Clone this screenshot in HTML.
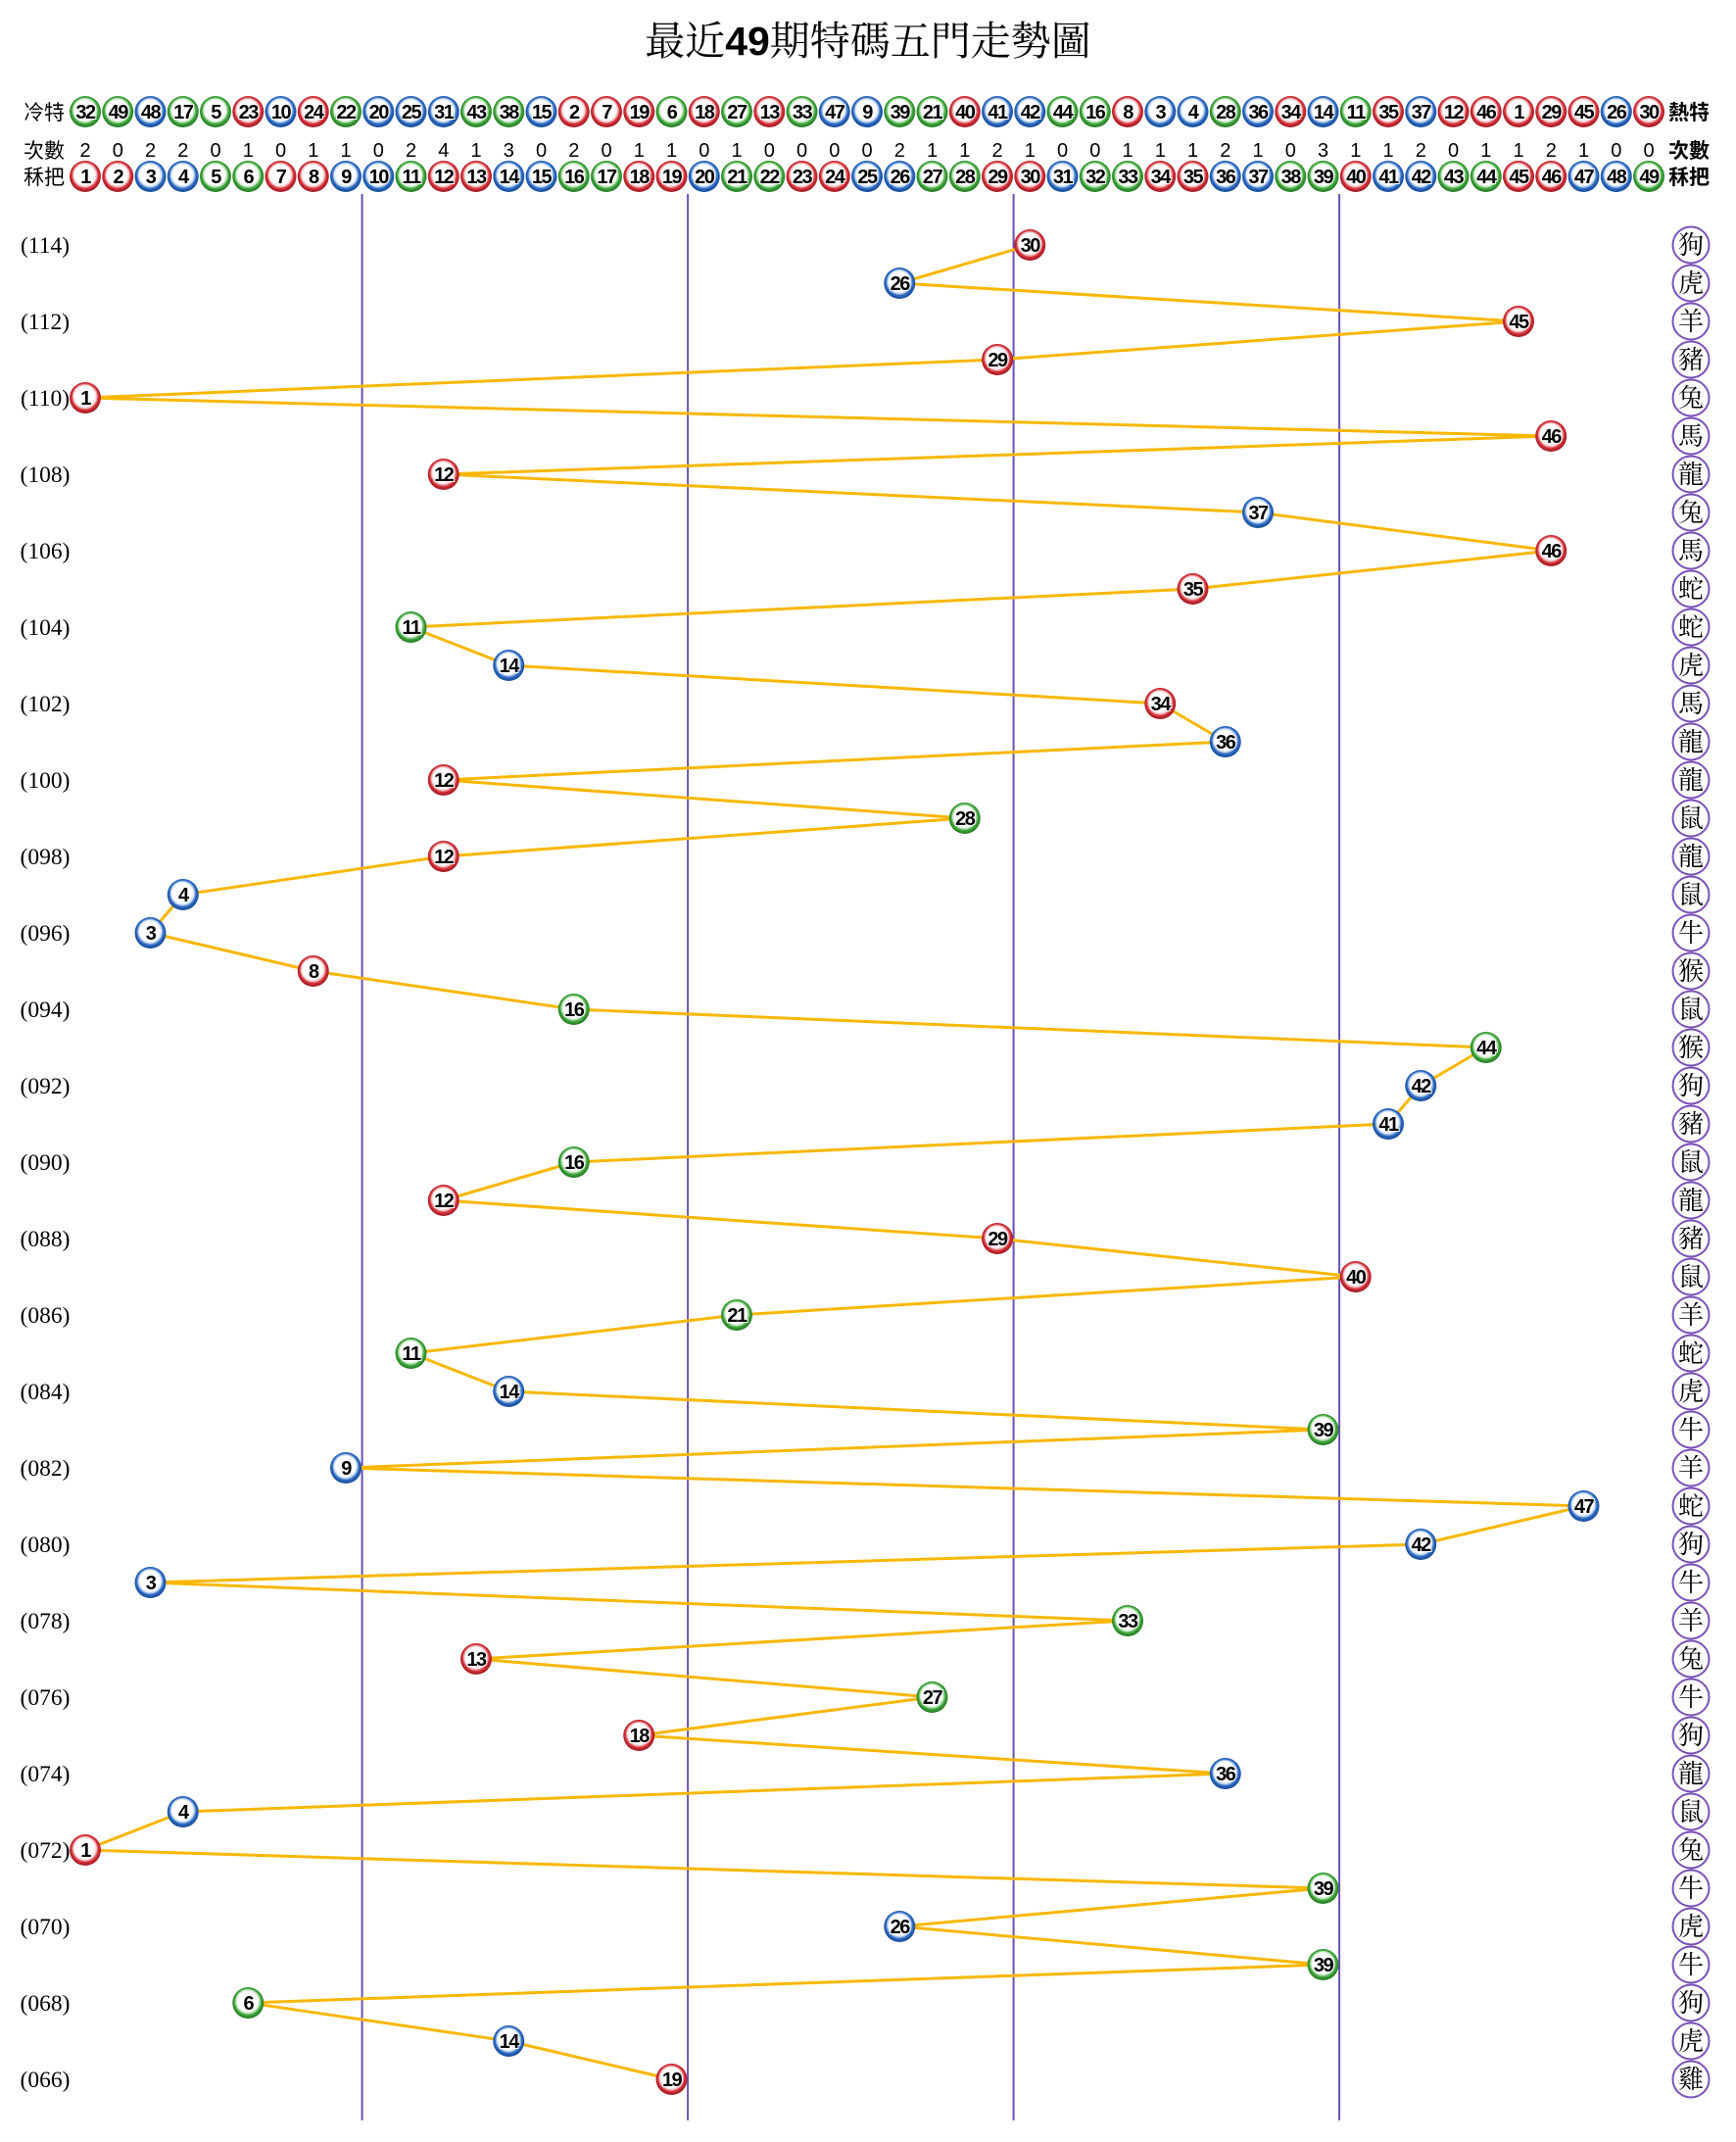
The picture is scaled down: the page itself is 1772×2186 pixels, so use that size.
<!DOCTYPE html>
<html><head><meta charset="utf-8"><style>
html,body{margin:0;padding:0;background:#fff;}
svg{display:block;}
.n{font-family:"Liberation Sans",sans-serif;font-weight:bold;font-size:20px;text-anchor:middle;fill:#000;stroke:#fff;stroke-width:2px;paint-order:stroke;letter-spacing:-1.5px;}
.c{font-family:"Liberation Sans",sans-serif;font-size:20px;text-anchor:middle;fill:#000;}
.lb{font-family:"Liberation Sans","Noto Sans CJK TC","Noto Sans CJK SC",sans-serif;font-size:21px;fill:#000;}
.rb{font-family:"Liberation Sans","Noto Sans CJK TC","Noto Sans CJK SC",sans-serif;font-size:21px;font-weight:bold;fill:#000;}
.p{font-family:"Liberation Serif",serif;font-size:23.5px;text-anchor:middle;fill:#000;}
.z{font-family:"Liberation Serif","Noto Serif CJK SC",serif;font-size:26px;text-anchor:middle;fill:#000;}
.t{font-family:"Liberation Serif","Noto Serif CJK SC",serif;font-size:41px;text-anchor:middle;fill:#000;}
.t tspan{font-family:"Liberation Sans",sans-serif;font-weight:bold;}
</style></head><body>
<svg width="1772" height="2186" viewBox="0 0 1772 2186" xmlns="http://www.w3.org/2000/svg">
<defs>
<radialGradient id="gR" cx="50%" cy="48%" r="52%" fx="46%" fy="40%">
<stop offset="0" stop-color="#fff"/><stop offset="0.6" stop-color="#fff"/><stop offset="0.7" stop-color="#f4d2d4"/><stop offset="0.82" stop-color="#d62e38"/><stop offset="1" stop-color="#9a1a22"/></radialGradient>
<radialGradient id="gG" cx="50%" cy="48%" r="52%" fx="46%" fy="40%">
<stop offset="0" stop-color="#fff"/><stop offset="0.6" stop-color="#fff"/><stop offset="0.7" stop-color="#d6eed4"/><stop offset="0.82" stop-color="#3ea63a"/><stop offset="1" stop-color="#217622"/></radialGradient>
<radialGradient id="gB" cx="50%" cy="48%" r="52%" fx="46%" fy="40%">
<stop offset="0" stop-color="#fff"/><stop offset="0.6" stop-color="#fff"/><stop offset="0.7" stop-color="#d2e1f5"/><stop offset="0.82" stop-color="#2c6ac4"/><stop offset="1" stop-color="#164891"/></radialGradient>
<circle id="R" r="16" fill="url(#gR)"/>
<circle id="G" r="16" fill="url(#gG)"/>
<circle id="B" r="16" fill="url(#gB)"/>
</defs>

<text class="t" x="886" y="56">最近<tspan>49</tspan>期特碼五門走勢圖</text>

<text class="lb" x="24" y="122">冷特</text>
<text class="lb" x="24" y="161">次數</text>
<text class="lb" x="24" y="188">秝把</text>
<text class="rb" x="1703" y="122">熱特</text>
<text class="rb" x="1703" y="161">次數</text>
<text class="rb" x="1703" y="188">秝把</text>

<!-- 冷特 row -->
<g transform="translate(87,114)"><use href="#G"/><text class="n" y="7">32</text></g>
<g transform="translate(120.25,114)"><use href="#G"/><text class="n" y="7">49</text></g>
<g transform="translate(153.5,114)"><use href="#B"/><text class="n" y="7">48</text></g>
<g transform="translate(186.75,114)"><use href="#G"/><text class="n" y="7">17</text></g>
<g transform="translate(220,114)"><use href="#G"/><text class="n" y="7">5</text></g>
<g transform="translate(253.25,114)"><use href="#R"/><text class="n" y="7">23</text></g>
<g transform="translate(286.5,114)"><use href="#B"/><text class="n" y="7">10</text></g>
<g transform="translate(319.75,114)"><use href="#R"/><text class="n" y="7">24</text></g>
<g transform="translate(353,114)"><use href="#G"/><text class="n" y="7">22</text></g>
<g transform="translate(386.25,114)"><use href="#B"/><text class="n" y="7">20</text></g>
<g transform="translate(419.5,114)"><use href="#B"/><text class="n" y="7">25</text></g>
<g transform="translate(452.75,114)"><use href="#B"/><text class="n" y="7">31</text></g>
<g transform="translate(486,114)"><use href="#G"/><text class="n" y="7">43</text></g>
<g transform="translate(519.25,114)"><use href="#G"/><text class="n" y="7">38</text></g>
<g transform="translate(552.5,114)"><use href="#B"/><text class="n" y="7">15</text></g>
<g transform="translate(585.75,114)"><use href="#R"/><text class="n" y="7">2</text></g>
<g transform="translate(619,114)"><use href="#R"/><text class="n" y="7">7</text></g>
<g transform="translate(652.25,114)"><use href="#R"/><text class="n" y="7">19</text></g>
<g transform="translate(685.5,114)"><use href="#G"/><text class="n" y="7">6</text></g>
<g transform="translate(718.75,114)"><use href="#R"/><text class="n" y="7">18</text></g>
<g transform="translate(752,114)"><use href="#G"/><text class="n" y="7">27</text></g>
<g transform="translate(785.25,114)"><use href="#R"/><text class="n" y="7">13</text></g>
<g transform="translate(818.5,114)"><use href="#G"/><text class="n" y="7">33</text></g>
<g transform="translate(851.75,114)"><use href="#B"/><text class="n" y="7">47</text></g>
<g transform="translate(885,114)"><use href="#B"/><text class="n" y="7">9</text></g>
<g transform="translate(918.25,114)"><use href="#G"/><text class="n" y="7">39</text></g>
<g transform="translate(951.5,114)"><use href="#G"/><text class="n" y="7">21</text></g>
<g transform="translate(984.75,114)"><use href="#R"/><text class="n" y="7">40</text></g>
<g transform="translate(1018,114)"><use href="#B"/><text class="n" y="7">41</text></g>
<g transform="translate(1051.25,114)"><use href="#B"/><text class="n" y="7">42</text></g>
<g transform="translate(1084.5,114)"><use href="#G"/><text class="n" y="7">44</text></g>
<g transform="translate(1117.75,114)"><use href="#G"/><text class="n" y="7">16</text></g>
<g transform="translate(1151,114)"><use href="#R"/><text class="n" y="7">8</text></g>
<g transform="translate(1184.25,114)"><use href="#B"/><text class="n" y="7">3</text></g>
<g transform="translate(1217.5,114)"><use href="#B"/><text class="n" y="7">4</text></g>
<g transform="translate(1250.75,114)"><use href="#G"/><text class="n" y="7">28</text></g>
<g transform="translate(1284,114)"><use href="#B"/><text class="n" y="7">36</text></g>
<g transform="translate(1317.25,114)"><use href="#R"/><text class="n" y="7">34</text></g>
<g transform="translate(1350.5,114)"><use href="#B"/><text class="n" y="7">14</text></g>
<g transform="translate(1383.75,114)"><use href="#G"/><text class="n" y="7">11</text></g>
<g transform="translate(1417,114)"><use href="#R"/><text class="n" y="7">35</text></g>
<g transform="translate(1450.25,114)"><use href="#B"/><text class="n" y="7">37</text></g>
<g transform="translate(1483.5,114)"><use href="#R"/><text class="n" y="7">12</text></g>
<g transform="translate(1516.75,114)"><use href="#R"/><text class="n" y="7">46</text></g>
<g transform="translate(1550,114)"><use href="#R"/><text class="n" y="7">1</text></g>
<g transform="translate(1583.25,114)"><use href="#R"/><text class="n" y="7">29</text></g>
<g transform="translate(1616.5,114)"><use href="#R"/><text class="n" y="7">45</text></g>
<g transform="translate(1649.75,114)"><use href="#B"/><text class="n" y="7">26</text></g>
<g transform="translate(1683,114)"><use href="#R"/><text class="n" y="7">30</text></g>

<!-- 次數 row -->
<g class="c">
<text x="87" y="160">2</text><text x="120.25" y="160">0</text><text x="153.5" y="160">2</text><text x="186.75" y="160">2</text><text x="220" y="160">0</text>
<text x="253.25" y="160">1</text><text x="286.5" y="160">0</text><text x="319.75" y="160">1</text><text x="353" y="160">1</text><text x="386.25" y="160">0</text>
<text x="419.5" y="160">2</text><text x="452.75" y="160">4</text><text x="486" y="160">1</text><text x="519.25" y="160">3</text><text x="552.5" y="160">0</text>
<text x="585.75" y="160">2</text><text x="619" y="160">0</text><text x="652.25" y="160">1</text><text x="685.5" y="160">1</text><text x="718.75" y="160">0</text>
<text x="752" y="160">1</text><text x="785.25" y="160">0</text><text x="818.5" y="160">0</text><text x="851.75" y="160">0</text><text x="885" y="160">0</text>
<text x="918.25" y="160">2</text><text x="951.5" y="160">1</text><text x="984.75" y="160">1</text><text x="1018" y="160">2</text><text x="1051.25" y="160">1</text>
<text x="1084.5" y="160">0</text><text x="1117.75" y="160">0</text><text x="1151" y="160">1</text><text x="1184.25" y="160">1</text><text x="1217.5" y="160">1</text>
<text x="1250.75" y="160">2</text><text x="1284" y="160">1</text><text x="1317.25" y="160">0</text><text x="1350.5" y="160">3</text><text x="1383.75" y="160">1</text>
<text x="1417" y="160">1</text><text x="1450.25" y="160">2</text><text x="1483.5" y="160">0</text><text x="1516.75" y="160">1</text><text x="1550" y="160">1</text>
<text x="1583.25" y="160">2</text><text x="1616.5" y="160">1</text><text x="1649.75" y="160">0</text><text x="1683" y="160">0</text>
</g>

<!-- 秝把 row -->
<g transform="translate(87,180)"><use href="#R"/><text class="n" y="7">1</text></g>
<g transform="translate(120.25,180)"><use href="#R"/><text class="n" y="7">2</text></g>
<g transform="translate(153.5,180)"><use href="#B"/><text class="n" y="7">3</text></g>
<g transform="translate(186.75,180)"><use href="#B"/><text class="n" y="7">4</text></g>
<g transform="translate(220,180)"><use href="#G"/><text class="n" y="7">5</text></g>
<g transform="translate(253.25,180)"><use href="#G"/><text class="n" y="7">6</text></g>
<g transform="translate(286.5,180)"><use href="#R"/><text class="n" y="7">7</text></g>
<g transform="translate(319.75,180)"><use href="#R"/><text class="n" y="7">8</text></g>
<g transform="translate(353,180)"><use href="#B"/><text class="n" y="7">9</text></g>
<g transform="translate(386.25,180)"><use href="#B"/><text class="n" y="7">10</text></g>
<g transform="translate(419.5,180)"><use href="#G"/><text class="n" y="7">11</text></g>
<g transform="translate(452.75,180)"><use href="#R"/><text class="n" y="7">12</text></g>
<g transform="translate(486,180)"><use href="#R"/><text class="n" y="7">13</text></g>
<g transform="translate(519.25,180)"><use href="#B"/><text class="n" y="7">14</text></g>
<g transform="translate(552.5,180)"><use href="#B"/><text class="n" y="7">15</text></g>
<g transform="translate(585.75,180)"><use href="#G"/><text class="n" y="7">16</text></g>
<g transform="translate(619,180)"><use href="#G"/><text class="n" y="7">17</text></g>
<g transform="translate(652.25,180)"><use href="#R"/><text class="n" y="7">18</text></g>
<g transform="translate(685.5,180)"><use href="#R"/><text class="n" y="7">19</text></g>
<g transform="translate(718.75,180)"><use href="#B"/><text class="n" y="7">20</text></g>
<g transform="translate(752,180)"><use href="#G"/><text class="n" y="7">21</text></g>
<g transform="translate(785.25,180)"><use href="#G"/><text class="n" y="7">22</text></g>
<g transform="translate(818.5,180)"><use href="#R"/><text class="n" y="7">23</text></g>
<g transform="translate(851.75,180)"><use href="#R"/><text class="n" y="7">24</text></g>
<g transform="translate(885,180)"><use href="#B"/><text class="n" y="7">25</text></g>
<g transform="translate(918.25,180)"><use href="#B"/><text class="n" y="7">26</text></g>
<g transform="translate(951.5,180)"><use href="#G"/><text class="n" y="7">27</text></g>
<g transform="translate(984.75,180)"><use href="#G"/><text class="n" y="7">28</text></g>
<g transform="translate(1018,180)"><use href="#R"/><text class="n" y="7">29</text></g>
<g transform="translate(1051.25,180)"><use href="#R"/><text class="n" y="7">30</text></g>
<g transform="translate(1084.5,180)"><use href="#B"/><text class="n" y="7">31</text></g>
<g transform="translate(1117.75,180)"><use href="#G"/><text class="n" y="7">32</text></g>
<g transform="translate(1151,180)"><use href="#G"/><text class="n" y="7">33</text></g>
<g transform="translate(1184.25,180)"><use href="#R"/><text class="n" y="7">34</text></g>
<g transform="translate(1217.5,180)"><use href="#R"/><text class="n" y="7">35</text></g>
<g transform="translate(1250.75,180)"><use href="#B"/><text class="n" y="7">36</text></g>
<g transform="translate(1284,180)"><use href="#B"/><text class="n" y="7">37</text></g>
<g transform="translate(1317.25,180)"><use href="#G"/><text class="n" y="7">38</text></g>
<g transform="translate(1350.5,180)"><use href="#G"/><text class="n" y="7">39</text></g>
<g transform="translate(1383.75,180)"><use href="#R"/><text class="n" y="7">40</text></g>
<g transform="translate(1417,180)"><use href="#B"/><text class="n" y="7">41</text></g>
<g transform="translate(1450.25,180)"><use href="#B"/><text class="n" y="7">42</text></g>
<g transform="translate(1483.5,180)"><use href="#G"/><text class="n" y="7">43</text></g>
<g transform="translate(1516.75,180)"><use href="#G"/><text class="n" y="7">44</text></g>
<g transform="translate(1550,180)"><use href="#R"/><text class="n" y="7">45</text></g>
<g transform="translate(1583.25,180)"><use href="#R"/><text class="n" y="7">46</text></g>
<g transform="translate(1616.5,180)"><use href="#B"/><text class="n" y="7">47</text></g>
<g transform="translate(1649.75,180)"><use href="#B"/><text class="n" y="7">48</text></g>
<g transform="translate(1683,180)"><use href="#G"/><text class="n" y="7">49</text></g>

<!-- vertical lines -->
<g stroke="#6b4fb6" stroke-width="2">
<line x1="369.6" y1="198" x2="369.6" y2="2164"/>
<line x1="702.1" y1="198" x2="702.1" y2="2164"/>
<line x1="1034.6" y1="198" x2="1034.6" y2="2164"/>
<line x1="1367.1" y1="198" x2="1367.1" y2="2164"/>
</g>

<!-- period labels -->
<g class="p">
<text x="46" y="258">(114)</text><text x="46" y="336">(112)</text><text x="46" y="414">(110)</text><text x="46" y="492">(108)</text>
<text x="46" y="570">(106)</text><text x="46" y="648">(104)</text><text x="46" y="726">(102)</text><text x="46" y="804">(100)</text>
<text x="46" y="882">(098)</text><text x="46" y="960">(096)</text><text x="46" y="1038">(094)</text><text x="46" y="1116">(092)</text>
<text x="46" y="1194">(090)</text><text x="46" y="1272">(088)</text><text x="46" y="1350">(086)</text><text x="46" y="1428">(084)</text>
<text x="46" y="1506">(082)</text><text x="46" y="1584">(080)</text><text x="46" y="1662">(078)</text><text x="46" y="1740">(076)</text>
<text x="46" y="1818">(074)</text><text x="46" y="1896">(072)</text><text x="46" y="1974">(070)</text><text x="46" y="2052">(068)</text>
<text x="46" y="2130">(066)</text>
</g>

<!-- trend line -->
<polyline fill="none" stroke="#f8b700" stroke-width="3" stroke-linejoin="round" points="1051.25,250 918.25,289 1550,328 1018,367 87,406 1583.25,445 452.75,484 1284,523 1583.25,562 1217.5,601 419.5,640 519.25,679 1184.25,718 1250.75,757 452.75,796 984.75,835 452.75,874 186.75,913 153.5,952 319.75,991 585.75,1030 1516.75,1069 1450.25,1108 1417,1147 585.75,1186 452.75,1225 1018,1264 1383.75,1303 752,1342 419.5,1381 519.25,1420 1350.5,1459 353,1498 1616.5,1537 1450.25,1576 153.5,1615 1151,1654 486,1693 951.5,1732 652.25,1771 1250.75,1810 186.75,1849 87,1888 1350.5,1927 918.25,1966 1350.5,2005 253.25,2044 519.25,2083 685.5,2122"/>

<!-- plot balls -->
<g transform="translate(1051.25,250)"><use href="#R"/><text class="n" y="7">30</text></g>
<g transform="translate(918.25,289)"><use href="#B"/><text class="n" y="7">26</text></g>
<g transform="translate(1550,328)"><use href="#R"/><text class="n" y="7">45</text></g>
<g transform="translate(1018,367)"><use href="#R"/><text class="n" y="7">29</text></g>
<g transform="translate(87,406)"><use href="#R"/><text class="n" y="7">1</text></g>
<g transform="translate(1583.25,445)"><use href="#R"/><text class="n" y="7">46</text></g>
<g transform="translate(452.75,484)"><use href="#R"/><text class="n" y="7">12</text></g>
<g transform="translate(1284,523)"><use href="#B"/><text class="n" y="7">37</text></g>
<g transform="translate(1583.25,562)"><use href="#R"/><text class="n" y="7">46</text></g>
<g transform="translate(1217.5,601)"><use href="#R"/><text class="n" y="7">35</text></g>
<g transform="translate(419.5,640)"><use href="#G"/><text class="n" y="7">11</text></g>
<g transform="translate(519.25,679)"><use href="#B"/><text class="n" y="7">14</text></g>
<g transform="translate(1184.25,718)"><use href="#R"/><text class="n" y="7">34</text></g>
<g transform="translate(1250.75,757)"><use href="#B"/><text class="n" y="7">36</text></g>
<g transform="translate(452.75,796)"><use href="#R"/><text class="n" y="7">12</text></g>
<g transform="translate(984.75,835)"><use href="#G"/><text class="n" y="7">28</text></g>
<g transform="translate(452.75,874)"><use href="#R"/><text class="n" y="7">12</text></g>
<g transform="translate(186.75,913)"><use href="#B"/><text class="n" y="7">4</text></g>
<g transform="translate(153.5,952)"><use href="#B"/><text class="n" y="7">3</text></g>
<g transform="translate(319.75,991)"><use href="#R"/><text class="n" y="7">8</text></g>
<g transform="translate(585.75,1030)"><use href="#G"/><text class="n" y="7">16</text></g>
<g transform="translate(1516.75,1069)"><use href="#G"/><text class="n" y="7">44</text></g>
<g transform="translate(1450.25,1108)"><use href="#B"/><text class="n" y="7">42</text></g>
<g transform="translate(1417,1147)"><use href="#B"/><text class="n" y="7">41</text></g>
<g transform="translate(585.75,1186)"><use href="#G"/><text class="n" y="7">16</text></g>
<g transform="translate(452.75,1225)"><use href="#R"/><text class="n" y="7">12</text></g>
<g transform="translate(1018,1264)"><use href="#R"/><text class="n" y="7">29</text></g>
<g transform="translate(1383.75,1303)"><use href="#R"/><text class="n" y="7">40</text></g>
<g transform="translate(752,1342)"><use href="#G"/><text class="n" y="7">21</text></g>
<g transform="translate(419.5,1381)"><use href="#G"/><text class="n" y="7">11</text></g>
<g transform="translate(519.25,1420)"><use href="#B"/><text class="n" y="7">14</text></g>
<g transform="translate(1350.5,1459)"><use href="#G"/><text class="n" y="7">39</text></g>
<g transform="translate(353,1498)"><use href="#B"/><text class="n" y="7">9</text></g>
<g transform="translate(1616.5,1537)"><use href="#B"/><text class="n" y="7">47</text></g>
<g transform="translate(1450.25,1576)"><use href="#B"/><text class="n" y="7">42</text></g>
<g transform="translate(153.5,1615)"><use href="#B"/><text class="n" y="7">3</text></g>
<g transform="translate(1151,1654)"><use href="#G"/><text class="n" y="7">33</text></g>
<g transform="translate(486,1693)"><use href="#R"/><text class="n" y="7">13</text></g>
<g transform="translate(951.5,1732)"><use href="#G"/><text class="n" y="7">27</text></g>
<g transform="translate(652.25,1771)"><use href="#R"/><text class="n" y="7">18</text></g>
<g transform="translate(1250.75,1810)"><use href="#B"/><text class="n" y="7">36</text></g>
<g transform="translate(186.75,1849)"><use href="#B"/><text class="n" y="7">4</text></g>
<g transform="translate(87,1888)"><use href="#R"/><text class="n" y="7">1</text></g>
<g transform="translate(1350.5,1927)"><use href="#G"/><text class="n" y="7">39</text></g>
<g transform="translate(918.25,1966)"><use href="#B"/><text class="n" y="7">26</text></g>
<g transform="translate(1350.5,2005)"><use href="#G"/><text class="n" y="7">39</text></g>
<g transform="translate(253.25,2044)"><use href="#G"/><text class="n" y="7">6</text></g>
<g transform="translate(519.25,2083)"><use href="#B"/><text class="n" y="7">14</text></g>
<g transform="translate(685.5,2122)"><use href="#R"/><text class="n" y="7">19</text></g>

<!-- zodiac circles -->
<g fill="#fff" stroke="#7b52b8" stroke-width="2">
<circle cx="1726" cy="250" r="18.5"/><circle cx="1726" cy="289" r="18.5"/><circle cx="1726" cy="328" r="18.5"/><circle cx="1726" cy="367" r="18.5"/>
<circle cx="1726" cy="406" r="18.5"/><circle cx="1726" cy="445" r="18.5"/><circle cx="1726" cy="484" r="18.5"/><circle cx="1726" cy="523" r="18.5"/>
<circle cx="1726" cy="562" r="18.5"/><circle cx="1726" cy="601" r="18.5"/><circle cx="1726" cy="640" r="18.5"/><circle cx="1726" cy="679" r="18.5"/>
<circle cx="1726" cy="718" r="18.5"/><circle cx="1726" cy="757" r="18.5"/><circle cx="1726" cy="796" r="18.5"/><circle cx="1726" cy="835" r="18.5"/>
<circle cx="1726" cy="874" r="18.5"/><circle cx="1726" cy="913" r="18.5"/><circle cx="1726" cy="952" r="18.5"/><circle cx="1726" cy="991" r="18.5"/>
<circle cx="1726" cy="1030" r="18.5"/><circle cx="1726" cy="1069" r="18.5"/><circle cx="1726" cy="1108" r="18.5"/><circle cx="1726" cy="1147" r="18.5"/>
<circle cx="1726" cy="1186" r="18.5"/><circle cx="1726" cy="1225" r="18.5"/><circle cx="1726" cy="1264" r="18.5"/><circle cx="1726" cy="1303" r="18.5"/>
<circle cx="1726" cy="1342" r="18.5"/><circle cx="1726" cy="1381" r="18.5"/><circle cx="1726" cy="1420" r="18.5"/><circle cx="1726" cy="1459" r="18.5"/>
<circle cx="1726" cy="1498" r="18.5"/><circle cx="1726" cy="1537" r="18.5"/><circle cx="1726" cy="1576" r="18.5"/><circle cx="1726" cy="1615" r="18.5"/>
<circle cx="1726" cy="1654" r="18.5"/><circle cx="1726" cy="1693" r="18.5"/><circle cx="1726" cy="1732" r="18.5"/><circle cx="1726" cy="1771" r="18.5"/>
<circle cx="1726" cy="1810" r="18.5"/><circle cx="1726" cy="1849" r="18.5"/><circle cx="1726" cy="1888" r="18.5"/><circle cx="1726" cy="1927" r="18.5"/>
<circle cx="1726" cy="1966" r="18.5"/><circle cx="1726" cy="2005" r="18.5"/><circle cx="1726" cy="2044" r="18.5"/><circle cx="1726" cy="2083" r="18.5"/>
<circle cx="1726" cy="2122" r="18.5"/>
</g>
<g class="z">
<text x="1726" y="259">狗</text><text x="1726" y="298">虎</text><text x="1726" y="337">羊</text><text x="1726" y="376">豬</text>
<text x="1726" y="415">兔</text><text x="1726" y="454">馬</text><text x="1726" y="493">龍</text><text x="1726" y="532">兔</text>
<text x="1726" y="571">馬</text><text x="1726" y="610">蛇</text><text x="1726" y="649">蛇</text><text x="1726" y="688">虎</text>
<text x="1726" y="727">馬</text><text x="1726" y="766">龍</text><text x="1726" y="805">龍</text><text x="1726" y="844">鼠</text>
<text x="1726" y="883">龍</text><text x="1726" y="922">鼠</text><text x="1726" y="961">牛</text><text x="1726" y="1000">猴</text>
<text x="1726" y="1039">鼠</text><text x="1726" y="1078">猴</text><text x="1726" y="1117">狗</text><text x="1726" y="1156">豬</text>
<text x="1726" y="1195">鼠</text><text x="1726" y="1234">龍</text><text x="1726" y="1273">豬</text><text x="1726" y="1312">鼠</text>
<text x="1726" y="1351">羊</text><text x="1726" y="1390">蛇</text><text x="1726" y="1429">虎</text><text x="1726" y="1468">牛</text>
<text x="1726" y="1507">羊</text><text x="1726" y="1546">蛇</text><text x="1726" y="1585">狗</text><text x="1726" y="1624">牛</text>
<text x="1726" y="1663">羊</text><text x="1726" y="1702">兔</text><text x="1726" y="1741">牛</text><text x="1726" y="1780">狗</text>
<text x="1726" y="1819">龍</text><text x="1726" y="1858">鼠</text><text x="1726" y="1897">兔</text><text x="1726" y="1936">牛</text>
<text x="1726" y="1975">虎</text><text x="1726" y="2014">牛</text><text x="1726" y="2053">狗</text><text x="1726" y="2092">虎</text>
<text x="1726" y="2131">雞</text>
</g>
</svg>
</body></html>
